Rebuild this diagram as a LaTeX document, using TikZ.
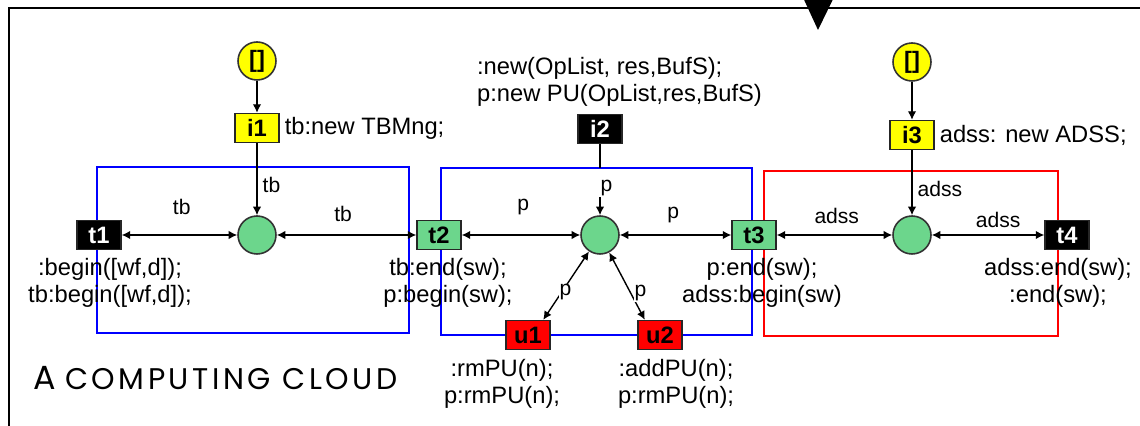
\documentclass[tikz,border=0pt]{standalone}
\usepackage{fontspec}
\setmainfont{Liberation Sans}
\newfontfamily\cloudfont[LetterSpace=12]{Poppins}
\usetikzlibrary{arrows.meta,positioning,calc}
\definecolor{pnGreen}{RGB}{108,214,140}
\definecolor{pnYellow}{RGB}{255,255,0}
\definecolor{pnRed}{RGB}{255,0,0}
\definecolor{pnBlue}{RGB}{0,0,255}
\tikzset{
    pnPlaceBase/.style={
        circle,
        draw=black!80,
        line width=0.9pt,
        minimum size=0.76cm,
        inner sep=0pt
    },
    pnTransBase/.style={
        rectangle,
        draw=black!85,
        line width=0.8pt,
        minimum width=0.88cm,
        minimum height=0.58cm,
        inner sep=1pt,
        font=\fontsize{13.5}{15.5}\selectfont\bfseries
    },
    % Places
    place/.style={pnPlaceBase, fill=pnGreen},
    initPlace/.style={pnPlaceBase, fill=pnYellow, font=\fontsize{13.5}{15.5}\selectfont\bfseries},
    % Transitions
    yellowTrans/.style={pnTransBase, fill=pnYellow},
    greenTrans/.style={pnTransBase, fill=pnGreen},
    redTrans/.style={pnTransBase, fill=pnRed},
    blackTrans/.style={pnTransBase, fill=black, text=white},
    % Arcs
    pnArc/.style={-{Latex[length=1.7mm,width=1.7mm]}, line width=0.8pt},
    pnBiArc/.style={{Latex[length=1.7mm,width=1.7mm]}-{Latex[length=1.7mm,width=1.7mm]}, line width=0.8pt},
    pnFrame/.style={line width=0.7pt}
}

\begin{document}
\begin{tikzpicture}[
    font=\fontsize{13.5}{15.5}\selectfont,
    inscr/.style={align=center, inner sep=1pt},
    arcLbl/.style={font=\fontsize{12}{14}\selectfont, inner sep=0pt, anchor=base},
    diagLbl/.style={fill=white, inner sep=0.5pt, font=\fontsize{12}{14}\selectfont}
]
\useasboundingbox (0,0) rectangle (22.8,8.52);

% Cloud frame
\draw[line width=0.9pt] (0.18,-0.3) -- (0.18,8.36) -- (23.1,8.36);
\fill (16.0,8.7) -- (16.74,8.7) -- (16.36,7.92) -- cycle;

% Components
\draw[pnFrame, draw=pnBlue] (1.94,1.86) rectangle (8.18,5.18);
\draw[pnFrame, draw=pnBlue] (8.82,1.82) rectangle (15.04,5.16);
\draw[pnFrame, draw=pnRed] (15.28,1.80) rectangle (21.16,5.10);

% Places
\node[initPlace] (s1) at (5.14,7.30) {[]};
\node[initPlace] (s3) at (18.24,7.28) {[]};
\node[place] (tbp) at (5.14,3.82) {};
\node[place] (pup) at (12.0,3.82) {};
\node[place] (adp) at (18.24,3.82) {};

% Transitions
\node[yellowTrans] (i1) at (5.14,5.96) {i1};
\node[blackTrans] (i2) at (12.0,5.94) {i2};
\node[yellowTrans] (i3) at (18.24,5.82) {i3};
\node[blackTrans] (t1) at (1.98,3.82) {t1};
\node[greenTrans] (t2) at (8.78,3.82) {t2};
\node[greenTrans] (t3) at (15.08,3.82) {t3};
\node[blackTrans] (t4) at (21.34,3.82) {t4};
\node[redTrans] (u1) at (10.56,1.82) {u1};
\node[redTrans] (u2) at (13.2,1.82) {u2};

% Inscriptions
\node[inscr, right=0.06cm of i1] (i1txt) {tb:new TBMng;};
\node[inscr, align=left, anchor=north west] (i2txt) at (9.5,7.42) {:new(OpList, res,BufS);\\p:new PU(OpList,res,BufS)};
\node[inscr, right=0.06cm of i3] (i3txt) {adss: new ADSS;};
\node[inscr, below=0.12cm of t1, xshift=0.22cm] (t1txt) {:begin([wf,d]);\\tb:begin([wf,d]);};
\node[inscr, below=0.12cm of t2, xshift=0.18cm] (t2txt) {tb:end(sw);\\p:begin(sw);};
\node[inscr, below=0.12cm of t3, xshift=0.16cm] (t3txt) {p:end(sw);\\adss:begin(sw)};
\node[inscr, below=0.12cm of t4, xshift=-0.18cm] (t4txt) {adss:end(sw);\\:end(sw);};
\node[inscr, below=0.14cm of u1, xshift=-0.52cm] (u1txt) {:rmPU(n);\\p:rmPU(n);};
\node[inscr, below=0.14cm of u2, xshift=0.32cm] (u2txt) {:addPU(n);\\p:rmPU(n);};

% Arcs of the tb component
\draw[pnArc] (s1) -- (i1);
\draw[pnArc] (i1) -- node[arcLbl, anchor=base west, pos=0.69, xshift=0.1cm] {tb} (tbp);
\draw[pnBiArc] (t1) -- node[arcLbl, pos=0.52, yshift=0.40cm] {tb} (tbp);
\draw[pnBiArc] (tbp) -- node[arcLbl, pos=0.475, yshift=0.26cm] {tb} (t2);

% Arcs of the PU component
\coordinate (i2out) at (i2 |- 0,5.16);
\coordinate (pupin) at (12.0,4.58);
\draw[line width=0.8pt] (i2) -- (i2out);
\draw[pnArc] (pupin) -- node[arcLbl, anchor=base west, pos=0, yshift=0.1cm] {p} (pup);
\draw[pnBiArc] (t2) -- node[arcLbl, pos=0.52, yshift=0.48cm] {p} (pup);
\draw[pnBiArc] (pup) -- node[arcLbl, pos=0.48, yshift=0.32cm] {p} (t3);
\draw[pnBiArc] (pup) -- node[diagLbl, pos=0.6, xshift=0.08cm] {p} (u1.45);
\draw[pnBiArc] (pup) -- node[diagLbl, pos=0.6, xshift=0.2cm] {p} (u2.135);

% Arcs of the adss component
\draw[pnArc] (s3) -- (i3);
\draw[pnArc] (i3) -- node[arcLbl, anchor=base west, pos=0.71, xshift=0.1cm] {adss} (adp);
\draw[pnBiArc] (t3) -- node[arcLbl, pos=0.52, yshift=0.22cm] {adss} (adp);
\draw[pnBiArc] (adp) -- node[arcLbl, pos=0.59, yshift=0.14cm] {adss} (t4);

% Caption
\node[anchor=base west, inner sep=0pt] (cloud) at (0.66,0.72) {\cloudfont{\fontsize{19}{21}\selectfont A} \cloudfont\fontsize{17}{19}\selectfont COMPUTING CLOUD};
\end{tikzpicture}
\end{document}
